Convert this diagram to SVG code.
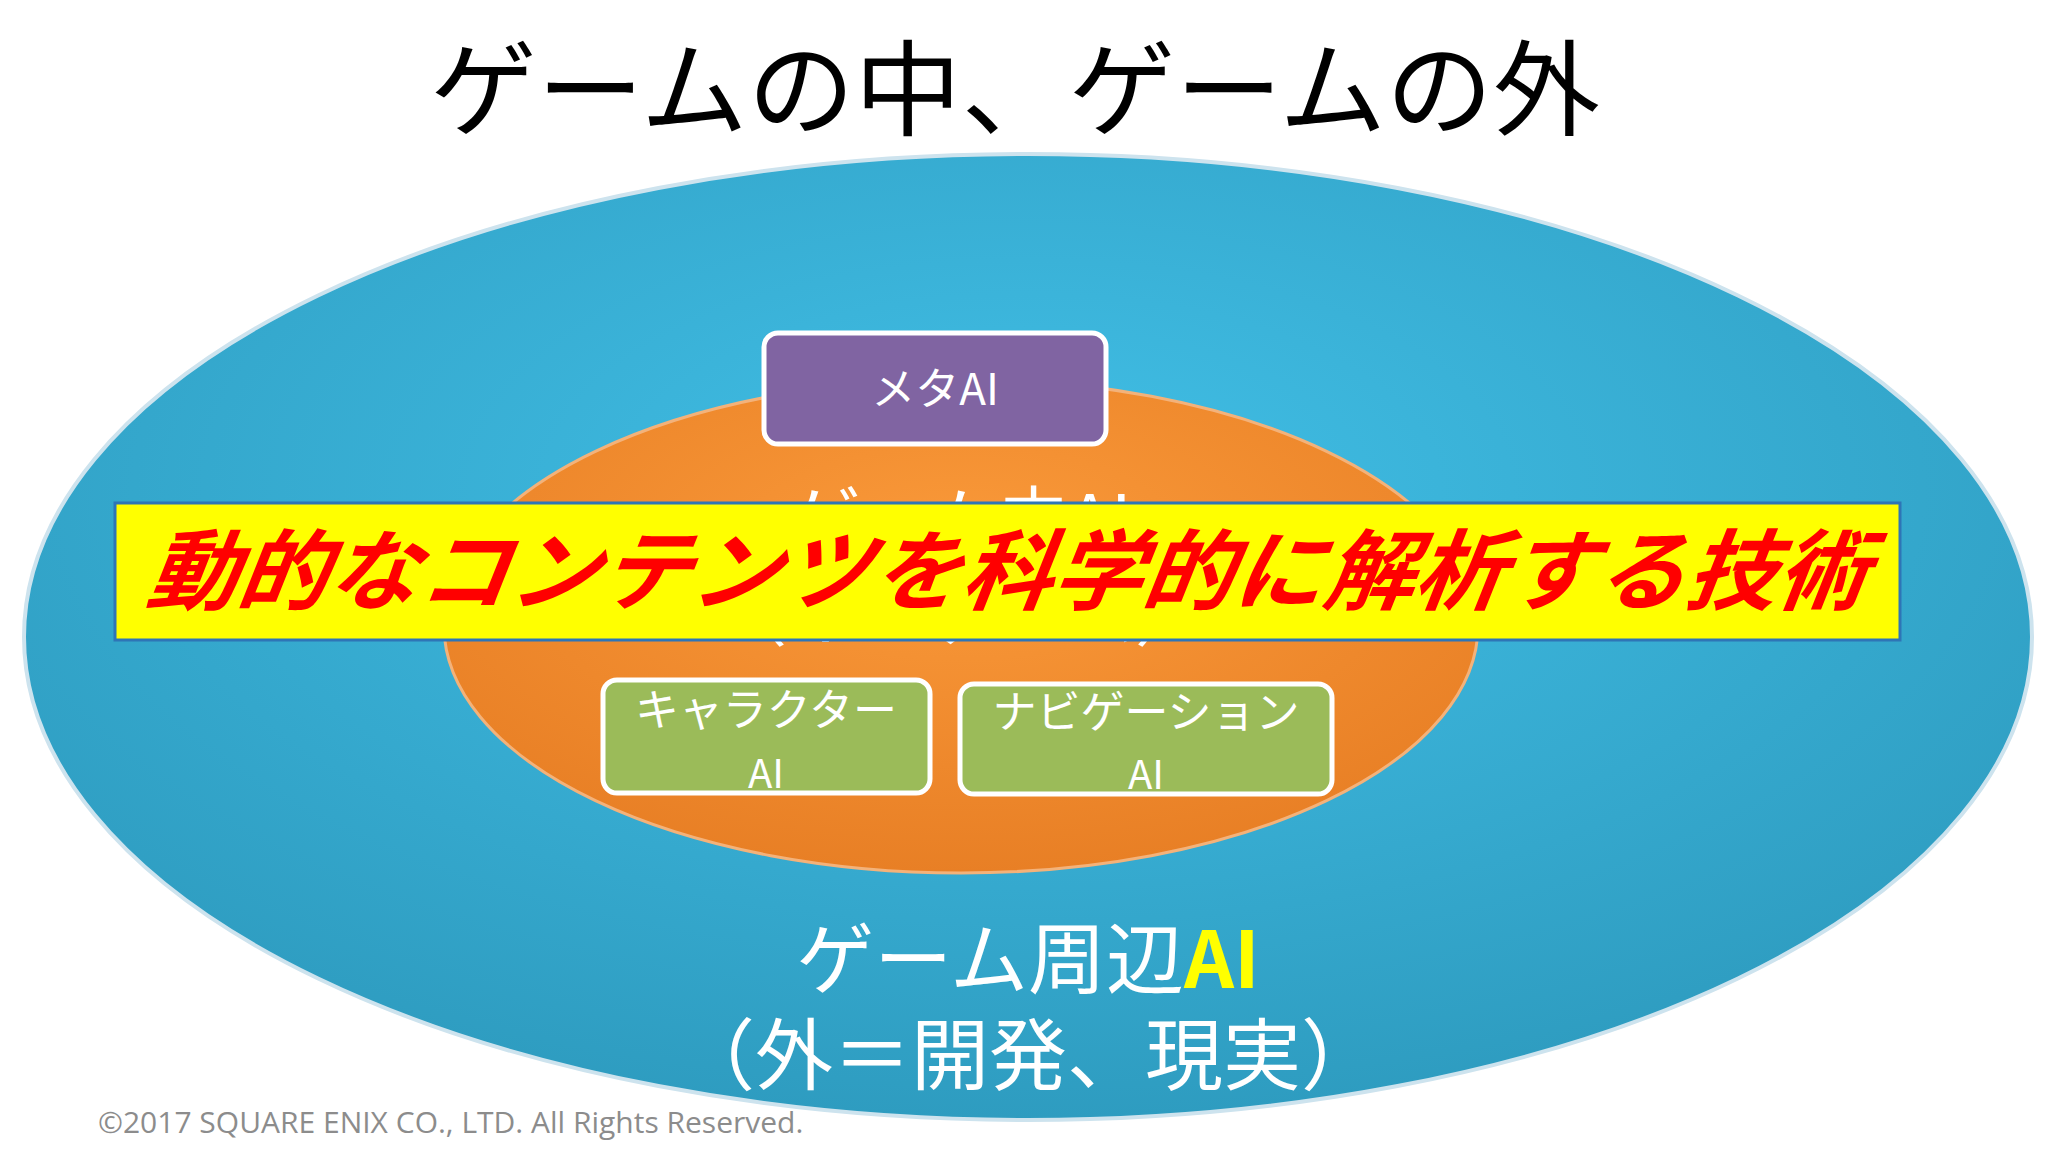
<svg xmlns="http://www.w3.org/2000/svg" width="2048" height="1152" viewBox="0 0 2048 1152">
<defs>
<style>
.jp{font-family:"Noto Sans CJK JP","Liberation Sans",sans-serif}
.box{stroke:#fff;stroke-width:5}
.wt{fill:#fff;text-anchor:middle}
</style>
<radialGradient id="bg" cx="50%" cy="35%" r="65%"><stop offset="0" stop-color="#41BFE6"/><stop offset="1" stop-color="#2E9CC0"/></radialGradient>
<radialGradient id="og" cx="50%" cy="35%" r="65%"><stop offset="0" stop-color="#FA9A3A"/><stop offset="1" stop-color="#E87F25"/></radialGradient>
</defs>
<rect width="2048" height="1152" fill="#fff"/>
<text class="jp" x="430" y="128" font-size="104" fill="#000" textLength="1170" lengthAdjust="spacingAndGlyphs">ゲームの中、ゲームの外</text>
<g id="outer"><ellipse cx="1028" cy="637" rx="1004" ry="483" fill="url(#bg)" stroke="#CDE3EE" stroke-width="4"/>
<text class="jp wt" x="1028" y="988" font-size="78">ゲーム周辺<tspan fill="#FFFF00" font-weight="bold">AI</tspan></text>
<text class="jp wt" x="1028" y="1084" font-size="78">（外＝開発、現実）</text></g>
<g id="inner"><ellipse cx="961" cy="626" rx="517" ry="247" fill="url(#og)" stroke="#F3B27A" stroke-width="3"/>
<text class="jp wt" x="961" y="545" font-size="70">ゲーム内AI</text>
<text class="jp wt" x="961" y="640" font-size="70">（インゲーム）</text></g>
<g id="meta"><rect class="box" x="764" y="333" width="342" height="111" rx="14" fill="#8064A2"/>
<text class="jp wt" x="935" y="405" font-size="44">メタAI</text></g>
<g id="char"><rect class="box" x="603" y="680" width="327" height="113" rx="14" fill="#9BBB59"/>
<text class="jp wt" x="766" y="726" font-size="44">キャラクター</text>
<text class="jp wt" x="766" y="788" font-size="40">AI</text></g>
<g id="nav"><rect class="box" x="960" y="684" width="372" height="110" rx="14" fill="#9BBB59"/>
<text class="jp wt" x="1146" y="728" font-size="44">ナビゲーション</text>
<text class="jp wt" x="1146" y="789" font-size="40">AI</text></g>
<g id="banner"><rect x="115" y="503" width="1785" height="137" fill="#FFFF00" stroke="#2E75B6" stroke-width="3"/>
<text class="jp" x="1007" y="603" font-size="88" font-weight="bold" font-style="italic" fill="#FF0000" text-anchor="middle" textLength="1720" lengthAdjust="spacingAndGlyphs" transform="skewX(-8) translate(82,0)">動的なコンテンツを科学的に解析する技術</text></g>
<g id="connectors"/>
<text x="98" y="1133" font-family="'Open Sans','Liberation Sans',sans-serif" font-size="30" fill="#8C8C8C">©2017 SQUARE ENIX CO., LTD. All Rights Reserved.</text>
</svg>
